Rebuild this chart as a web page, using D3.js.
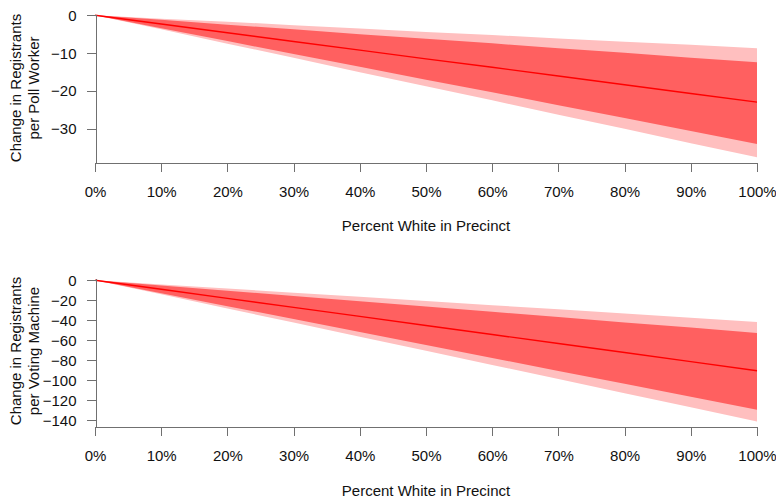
<!DOCTYPE html>
<html>
<head>
<meta charset="utf-8">
<script src="https://cdn.jsdelivr.net/npm/d3@7"></script>
<style>
  body { margin: 0; background: #fff; }
  text { font-family: "Liberation Sans", Arial, sans-serif; fill: #111; }
  .axis path, .axis line { stroke: #707070; shape-rendering: crispEdges; }
  .axis text { font-size: 15px; fill: #111; }
</style>
</head>
<body>
<div class="chart"></div>
<script>
// x values: percent white in precinct
const pctWhite = [0, 10, 20, 30, 40, 50, 60, 70, 80, 90, 100];

// panel 1: change in registrants per poll worker
const workerMean    = [0, -2.3, -4.6, -6.9, -9.2, -11.5, -13.7, -16.0, -18.3, -20.6, -22.9];
const workerIn50    = [0, -1.2, -2.5, -3.7, -5.0, -6.2, -7.4, -8.7, -9.9, -11.2, -12.4];
const workerOut50   = [0, -3.4, -6.8, -10.2, -13.6, -17.0, -20.3, -23.7, -27.1, -30.5, -33.9];
const workerIn95    = [0, -0.9, -1.7, -2.6, -3.5, -4.4, -5.2, -6.1, -7.0, -7.8, -8.7];
const workerOut95   = [0, -3.7, -7.5, -11.2, -15.0, -18.7, -22.4, -26.2, -29.9, -33.7, -37.4];
const workerTicks   = [0, -10, -20, -30];

// panel 2: change in registrants per voting machine
const machineMean   = [0, -9.0, -18.1, -27.1, -36.1, -45.2, -54.2, -63.2, -72.2, -81.3, -90.3];
const machineIn50   = [0, -5.3, -10.5, -15.8, -21.0, -26.3, -31.6, -36.8, -42.1, -47.3, -52.6];
const machineOut50  = [0, -12.9, -25.9, -38.8, -51.7, -64.7, -77.6, -90.5, -103.4, -116.4, -129.3];
const machineIn95   = [0, -4.2, -8.3, -12.5, -16.6, -20.8, -25.0, -29.1, -33.3, -37.4, -41.6];
const machineOut95  = [0, -14.1, -28.2, -42.3, -56.4, -70.5, -84.6, -98.7, -112.8, -126.9, -141.0];
const machineTicks  = [0, -20, -40, -60, -80, -100, -120, -140];

const xTicks = [0, 10, 20, 30, 40, 50, 60, 70, 80, 90, 100];

const width = 776, height = 498;
const svg = d3.select('.chart').append('svg')
  .attr('width', width).attr('height', height);

const xScale = d3.scaleLinear().domain([0, 100]).range([95, 757]);

function drawPanel(cfg) {
  const yScale = d3.scaleLinear().domain(cfg.yDomain).range(cfg.yRange);
  const g = svg.append('g');

  const rows = pctWhite.map((p, i) => ({
    x: p, mean: cfg.mean[i],
    in50: cfg.in50[i], out50: cfg.out50[i],
    in95: cfg.in95[i], out95: cfg.out95[i]
  }));

  const area = (lo, hi) => d3.area()
    .x(d => xScale(d.x))
    .y0(d => yScale(d[lo]))
    .y1(d => yScale(d[hi]));

  // outer band (light), inner band (darker), mean line
  g.append('path').datum(rows).attr('d', area('out95', 'in95')).attr('fill', '#ffbfbf');
  g.append('path').datum(rows).attr('d', area('out50', 'in50')).attr('fill', '#ff6060');
  g.append('path').datum(rows)
    .attr('d', d3.line().x(d => xScale(d.x)).y(d => yScale(d.mean)))
    .attr('fill', 'none').attr('stroke', '#ff0000').attr('stroke-width', 1.4);

  // axes
  const yAxis = d3.axisLeft(yScale).tickValues(cfg.ticks)
    .tickSize(9).tickSizeOuter(0).tickPadding(10);
  g.append('g').attr('class', 'axis')
    .attr('transform', 'translate(95.5,0)')
    .call(yAxis);

  const xAxis = d3.axisBottom(xScale).tickValues(xTicks)
    .tickFormat(d => d + '%')
    .tickSize(9).tickSizeOuter(0).tickPadding(14);
  g.append('g').attr('class', 'axis')
    .attr('transform', `translate(0,${cfg.yRange[0] + 0.5})`)
    .call(xAxis);

  // axis titles
  g.append('text')
    .attr('x', (xScale.range()[0] + xScale.range()[1]) / 2)
    .attr('y', cfg.xTitleY)
    .attr('text-anchor', 'middle')
    .style('font-size', '15px')
    .text('Percent White in Precinct');

  const cy = cfg.labelCenter;
  const yt = g.append('text')
    .attr('transform', `translate(0,${cy}) rotate(-90)`)
    .attr('text-anchor', 'middle')
    .style('font-size', '15px');
  yt.append('tspan').attr('x', 0).attr('y', 20.5).text('Change in Registrants');
  yt.append('tspan').attr('x', 0).attr('y', 38.5).text(cfg.perLabel);
}

drawPanel({
  mean: workerMean, in50: workerIn50, out50: workerOut50, in95: workerIn95, out95: workerOut95,
  ticks: workerTicks,
  yDomain: [-38.8, 0.2], yRange: [162.5, 14.5],
  xTitleY: 231, labelCenter: 88, perLabel: 'per Poll Worker'
});

drawPanel({
  mean: machineMean, in50: machineIn50, out50: machineOut50, in95: machineIn95, out95: machineOut95,
  ticks: machineTicks,
  yDomain: [-146, 2.2], yRange: [426.5, 278],
  xTitleY: 496, labelCenter: 351, perLabel: 'per Voting Machine'
});
</script>
</body>
</html>
